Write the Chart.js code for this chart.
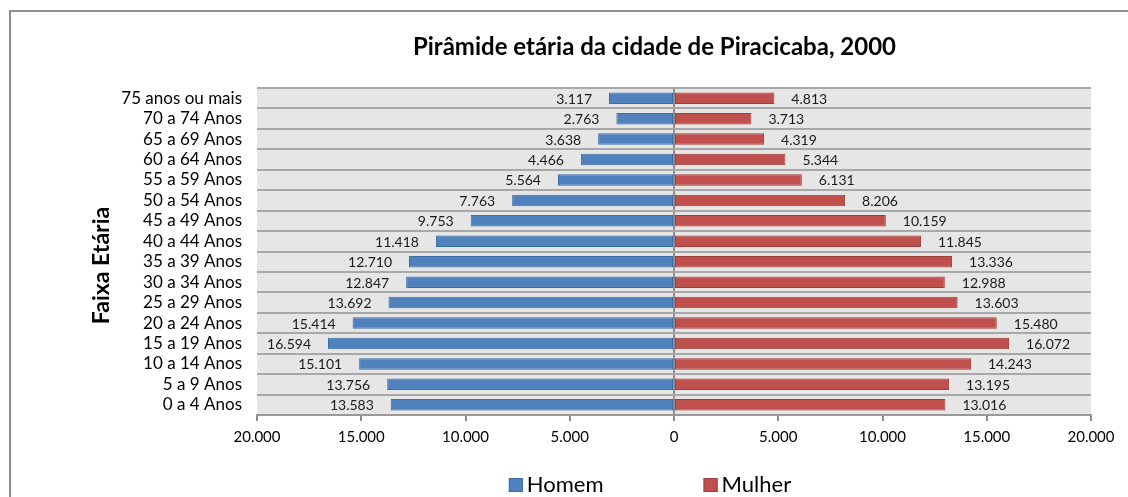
<!DOCTYPE html>
<html>
<head>
<meta charset="utf-8">
<script src="https://cdn.jsdelivr.net/npm/chart.js@4"></script>
<style>
html,body{margin:0;padding:0;background:#fff;}
#c{display:block;}
</style>
</head>
<body>
<canvas id="c" width="1128" height="497"></canvas>
<script>
const categories = ["75 anos ou mais","70 a 74 Anos","65 a 69 Anos","60 a 64 Anos","55 a 59 Anos","50 a 54 Anos","45 a 49 Anos","40 a 44 Anos","35 a 39 Anos","30 a 34 Anos","25 a 29 Anos","20 a 24 Anos","15 a 19 Anos","10 a 14 Anos","5 a 9 Anos","0 a 4 Anos"];
const homem = [3117,2763,3638,4466,5564,7763,9753,11418,12710,12847,13692,15414,16594,15101,13756,13583];
const mulher = [4813,3713,4319,5344,6131,8206,10159,11845,13336,12988,13603,15480,16072,14243,13195,13016];
const xTicks = [-20000,-15000,-10000,-5000,0,5000,10000,15000,20000];
const seriesNames = ["Homem","Mulher"];
const chartTitle = "Pirâmide etária da cidade de Piracicaba, 2000";
const yTitle = "Faixa Etária";

const FONT = "Lato, 'Open Sans', sans-serif";
function fmt(v){ return String(Math.abs(Math.round(v))).replace(/\B(?=(\d{3})+(?!\d))/g, "."); }

const frameAndBg = {
  id: 'frameAndBg',
  beforeDraw(chart){
    const ctx = chart.ctx, a = chart.chartArea;
    ctx.save();
    ctx.fillStyle = '#ffffff';
    ctx.fillRect(0,0,chart.width,chart.height);
    ctx.strokeStyle = '#8e8e8e';
    ctx.lineWidth = 2;
    ctx.strokeRect(10, 11, chart.width + 20, chart.height + 20);
    ctx.fillStyle = '#e6e6e6';
    ctx.fillRect(a.left, a.top, a.right - a.left, a.bottom - a.top);
    ctx.restore();
  }
};

// shift the built-in title so it is centred like the original
const titleShift = {
  id: 'titleShift',
  afterLayout(chart){
    const t = chart.titleBlock;
    if (t) { t.left += 66; t.right += 66; }
  }
};

const dataLabels = {
  id: 'dataLabels',
  afterDatasetsDraw(chart){
    const ctx = chart.ctx;
    ctx.save();
    ctx.font = "14px " + FONT;
    ctx.fillStyle = '#1a1a1a';
    ctx.textBaseline = 'middle';
    chart.data.datasets.forEach((ds, di) => {
      const meta = chart.getDatasetMeta(di);
      meta.data.forEach((el, i) => {
        const v = ds.data[i];
        const txt = fmt(v);
        if (v < 0) { ctx.textAlign = 'right'; ctx.fillText(txt, el.x - 17, el.y + 1); }
        else { ctx.textAlign = 'left'; ctx.fillText(txt, el.x + 17, el.y + 1); }
      });
    });
    ctx.restore();
  }
};

// axis title and legend, drawn as canvas text
const extras = {
  id: 'extras',
  afterDraw(chart){
    const ctx = chart.ctx, a = chart.chartArea;
    ctx.save();
    // y axis title
    ctx.font = "bold 23px " + FONT;
    ctx.fillStyle = '#000';
    ctx.textAlign = 'center';
    ctx.textBaseline = 'middle';
    ctx.translate(102, (a.top + a.bottom) / 2 + 14);
    ctx.rotate(-Math.PI / 2);
    ctx.fillText(yTitle, 0, 0);
    ctx.restore();

    // legend
    ctx.save();
    ctx.font = "22px " + FONT;
    ctx.textBaseline = 'middle';
    ctx.textAlign = 'left';
    const box = 14, gapText = 4, gapItem = 100, cy = 485, cx = 650;
    const ds = chart.data.datasets;
    const widths = ds.map(d => box + gapText + ctx.measureText(d.label).width);
    const total = widths.reduce((s, w) => s + w, 0) + gapItem * (ds.length - 1);
    let x = cx - total / 2;
    ds.forEach((d, i) => {
      ctx.fillStyle = d.backgroundColor;
      ctx.fillRect(x, cy - box / 2, box, box);
      ctx.strokeStyle = d.borderColor;
      ctx.lineWidth = 1;
      ctx.strokeRect(x + 0.5, cy - box / 2 + 0.5, box - 1, box - 1);
      ctx.fillStyle = '#000';
      ctx.fillText(d.label, x + box + gapText, cy);
      x += widths[i] + gapItem;
    });
    ctx.restore();
  }
};

new Chart(document.getElementById('c'), {
  type: 'bar',
  data: {
    labels: categories,
    datasets: [
      { label: seriesNames[0], data: homem.map(v => -v), backgroundColor: '#4f81bd', borderColor: '#3d6da8', borderWidth: 1, borderSkipped: false, categoryPercentage: 0.56, barPercentage: 1 },
      { label: seriesNames[1], data: mulher, backgroundColor: '#c0504d', borderColor: '#a03e3b', borderWidth: 1, borderSkipped: false, categoryPercentage: 0.56, barPercentage: 1 }
    ]
  },
  options: {
    indexAxis: 'y',
    responsive: false,
    animation: false,
    devicePixelRatio: 1,
    layout: { padding: { left: 86, right: 37, top: 33, bottom: 46 } },
    plugins: {
      title: { display: true, text: chartTitle, color: '#000', font: { family: FONT, size: 24, weight: 'bold', lineHeight: 1.2 }, padding: { top: 0, bottom: 26.2 } },
      legend: { display: false },
      tooltip: { enabled: false }
    },
    scales: {
      x: {
        stacked: true,
        min: -20000, max: 20000,
        afterBuildTicks(scale){ scale.ticks = xTicks.map(v => ({ value: v })); },
        ticks: { color: '#000', font: { family: FONT, size: 15 }, padding: 7, maxRotation: 0, callback: v => fmt(v) },
        grid: {
          color: c => (c.tick && c.tick.value === 0) ? '#8c8c8c' : 'rgba(0,0,0,0)',
          tickColor: '#8c8c8c', tickLength: 6, lineWidth: 2
        },
        border: { display: true, color: '#999999', width: 2 },
        afterFit(scale){ scale.height = 36; }
      },
      y: {
        stacked: true,
        ticks: { color: '#000', font: { family: FONT, size: 17 }, padding: 15, autoSkip: false },
        grid: { offset: true, color: '#a8a8a8', lineWidth: 2, drawTicks: false },
        border: { display: false },
        afterFit(scale){ scale.width = 171; }
      }
    }
  },
  plugins: [frameAndBg, titleShift, dataLabels, extras]
});
</script>
</body>
</html>
